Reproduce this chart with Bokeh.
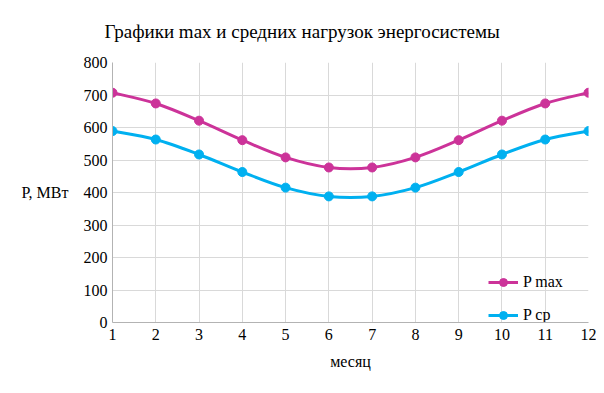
from bokeh.plotting import figure
from bokeh.models import FixedTicker, Range1d, Legend, LegendItem
from bokeh.embed import file_html
from bokeh.resources import INLINE

months = [1, 2, 3, 4, 5, 6, 7, 8, 9, 10, 11, 12]
p_max = [707, 674, 621, 561, 508, 477, 477, 508, 561, 621, 674, 707]
p_avg = [589, 563, 517, 463, 415, 388, 388, 415, 463, 517, 563, 589]
y_ticks = [0, 100, 200, 300, 400, 500, 600, 700, 800]

title_text = "Графики max и средних нагрузок энергосистемы"
x_label = "месяц"
y_label = "P, МВт"
names = ["P max", "P ср"]
colors = ["#cc3399", "#00b0f0"]

FONT = "'Liberation Serif'"

p = figure(width=596, height=385, output_backend="svg", toolbar_location=None,
           x_range=Range1d(1, 12), y_range=Range1d(0, 800),
           min_border_left=112, min_border_right=8, min_border_top=62, min_border_bottom=63,
           title=title_text)
p.title.text_font = FONT
p.title.text_font_size = "19px"
p.title.text_font_style = "normal"
p.title.text_color = "#000000"
p.title.align = "left"
p.title.vertical_align = "top"
p.title.offset = -8
p.title.standoff = 38

p.outline_line_color = None
for ax in (p.xaxis[0], p.yaxis[0]):
    ax.axis_line_color = "#b3b3b3"
    ax.major_tick_line_color = None
    ax.minor_tick_line_color = None
    ax.major_tick_out = 0
    ax.major_tick_in = 0
    ax.minor_tick_out = 0
    ax.minor_tick_in = 0
    ax.major_label_text_font = FONT
    ax.major_label_text_font_size = "16px"
    ax.major_label_text_color = "#000000"
    ax.axis_label_text_font = FONT
    ax.axis_label_text_font_size = "16px"
    ax.axis_label_text_font_style = "normal"
    ax.axis_label_text_color = "#000000"

p.xaxis.ticker = FixedTicker(ticks=months)
p.yaxis.ticker = FixedTicker(ticks=y_ticks)
p.xaxis.axis_label = x_label
p.yaxis.axis_label = y_label
p.yaxis.axis_label_orientation = "horizontal"
p.yaxis.major_label_standoff = 5
p.yaxis.axis_label_standoff = 12
p.xaxis.major_label_standoff = 6
p.xaxis.axis_label_standoff = 10

p.grid.grid_line_color = "#d9d9d9"
p.grid.grid_line_width = 1
p.xgrid.ticker = FixedTicker(ticks=months)
p.ygrid.ticker = FixedTicker(ticks=y_ticks)


def spline_segments(xs, ys):
    n = len(xs)
    x0s, y0s, x1s, y1s, cx0, cy0, cx1, cy1 = [], [], [], [], [], [], [], []
    for i in range(n - 1):
        pxm = xs[i - 1] if i > 0 else xs[i]
        pym = ys[i - 1] if i > 0 else ys[i]
        pxp = xs[i + 2] if i + 2 < n else xs[i + 1]
        pyp = ys[i + 2] if i + 2 < n else ys[i + 1]
        x0s.append(xs[i]); y0s.append(ys[i])
        x1s.append(xs[i + 1]); y1s.append(ys[i + 1])
        cx0.append(xs[i] + (xs[i + 1] - pxm) / 6.0)
        cy0.append(ys[i] + (ys[i + 1] - pym) / 6.0)
        cx1.append(xs[i + 1] - (pxp - xs[i]) / 6.0)
        cy1.append(ys[i + 1] - (pyp - ys[i]) / 6.0)
    return dict(x0=x0s, y0=y0s, x1=x1s, y1=y1s, cx0=cx0, cy0=cy0, cx1=cx1, cy1=cy1)


items = []
for series, color, name in zip([p_max, p_avg], colors, names):
    seg = spline_segments(months, series)
    p.bezier(x0=seg["x0"], y0=seg["y0"], x1=seg["x1"], y1=seg["y1"],
             cx0=seg["cx0"], cy0=seg["cy0"], cx1=seg["cx1"], cy1=seg["cy1"],
             line_color=color, line_width=3)
    sc = p.scatter(months, series, size=9, marker="circle", fill_color=color, line_color=color)
    lg_line = p.line([months[0]], [series[0]], line_color=color, line_width=3)
    items.append(LegendItem(label=name, renderers=[lg_line, sc]))

legend = Legend(items=items, location=(376, -3), orientation="vertical",
                background_fill_alpha=0, border_line_color=None,
                label_text_font=FONT, label_text_font_size="16px", label_text_color="#000000",
                glyph_width=30, glyph_height=20, label_height=20, label_standoff=5,
                spacing=13, padding=0, margin=0)
p.add_layout(legend)

open("out.html", "w").write(file_html(p, INLINE))
